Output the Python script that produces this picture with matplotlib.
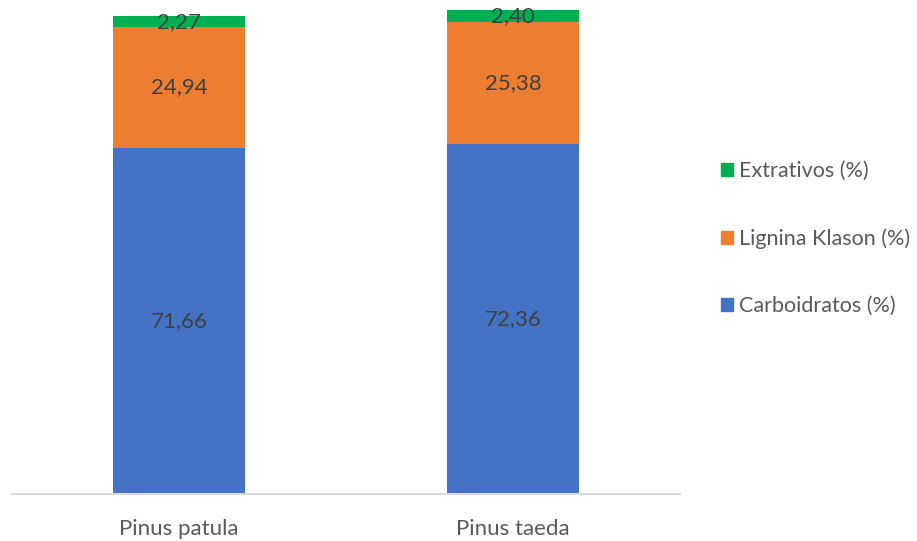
import matplotlib.pyplot as plt
from matplotlib.patches import Patch

# composição química da madeira (%)
especies = ["Pinus patula", "Pinus taeda"]
carboidratos = [71.66, 72.36]
lignina = [24.94, 25.38]
extrativos = [2.27, 2.40]

plt.rcParams["font.family"] = ["Lato", "DejaVu Sans"]

cor_carb = "#4472C4"
cor_lig = "#ED7D31"
cor_ext = "#00B050"

fig = plt.figure(figsize=(9.17, 5.41), dpi=100)
ax = fig.add_axes([12 / 917, 1 - 494 / 541, 668 / 917, 484 / 541])

x = range(len(especies))
larg = 0.395
base2 = [c + l for c, l in zip(carboidratos, lignina)]
b1 = ax.bar(x, carboidratos, larg, color=cor_carb)
b2 = ax.bar(x, lignina, larg, bottom=carboidratos, color=cor_lig)
b3 = ax.bar(x, extrativos, larg, bottom=base2, color=cor_ext)

for barras, vals in [(b1, carboidratos), (b2, lignina), (b3, extrativos)]:
    for r, v in zip(barras, vals):
        ax.text(r.get_x() + r.get_width() / 2, r.get_y() + r.get_height() / 2,
                f"{v:.2f}".replace(".", ","), ha="center", va="center",
                fontsize=16, color="#404040")

ax.set_xlim(-0.5, 1.5)
ax.set_ylim(0, max(b + e for b, e in zip(base2, extrativos)))
ax.set_xticks(list(x))
ax.set_xticklabels(especies, fontsize=16, color="#595959")
ax.tick_params(axis="x", length=0, pad=18)
ax.set_yticks([])
for lado in ["top", "right", "left"]:
    ax.spines[lado].set_visible(False)
ax.spines["bottom"].set_color("#D9D9D9")
ax.spines["bottom"].set_linewidth(1.5)

itens = [Patch(color=cor_ext, label="Extrativos (%)"),
         Patch(color=cor_lig, label="Lignina Klason (%)"),
         Patch(color=cor_carb, label="Carboidratos (%)")]
fig.legend(handles=itens, loc="center left", bbox_to_anchor=(721 / 917, 1 - 238.5 / 541),
           frameon=False, fontsize=15.5, labelcolor="#595959", borderpad=0,
           borderaxespad=0, handlelength=0.55, handleheight=0.55,
           handletextpad=0.3, labelspacing=2.2)

fig.savefig("out.png", dpi=100)
